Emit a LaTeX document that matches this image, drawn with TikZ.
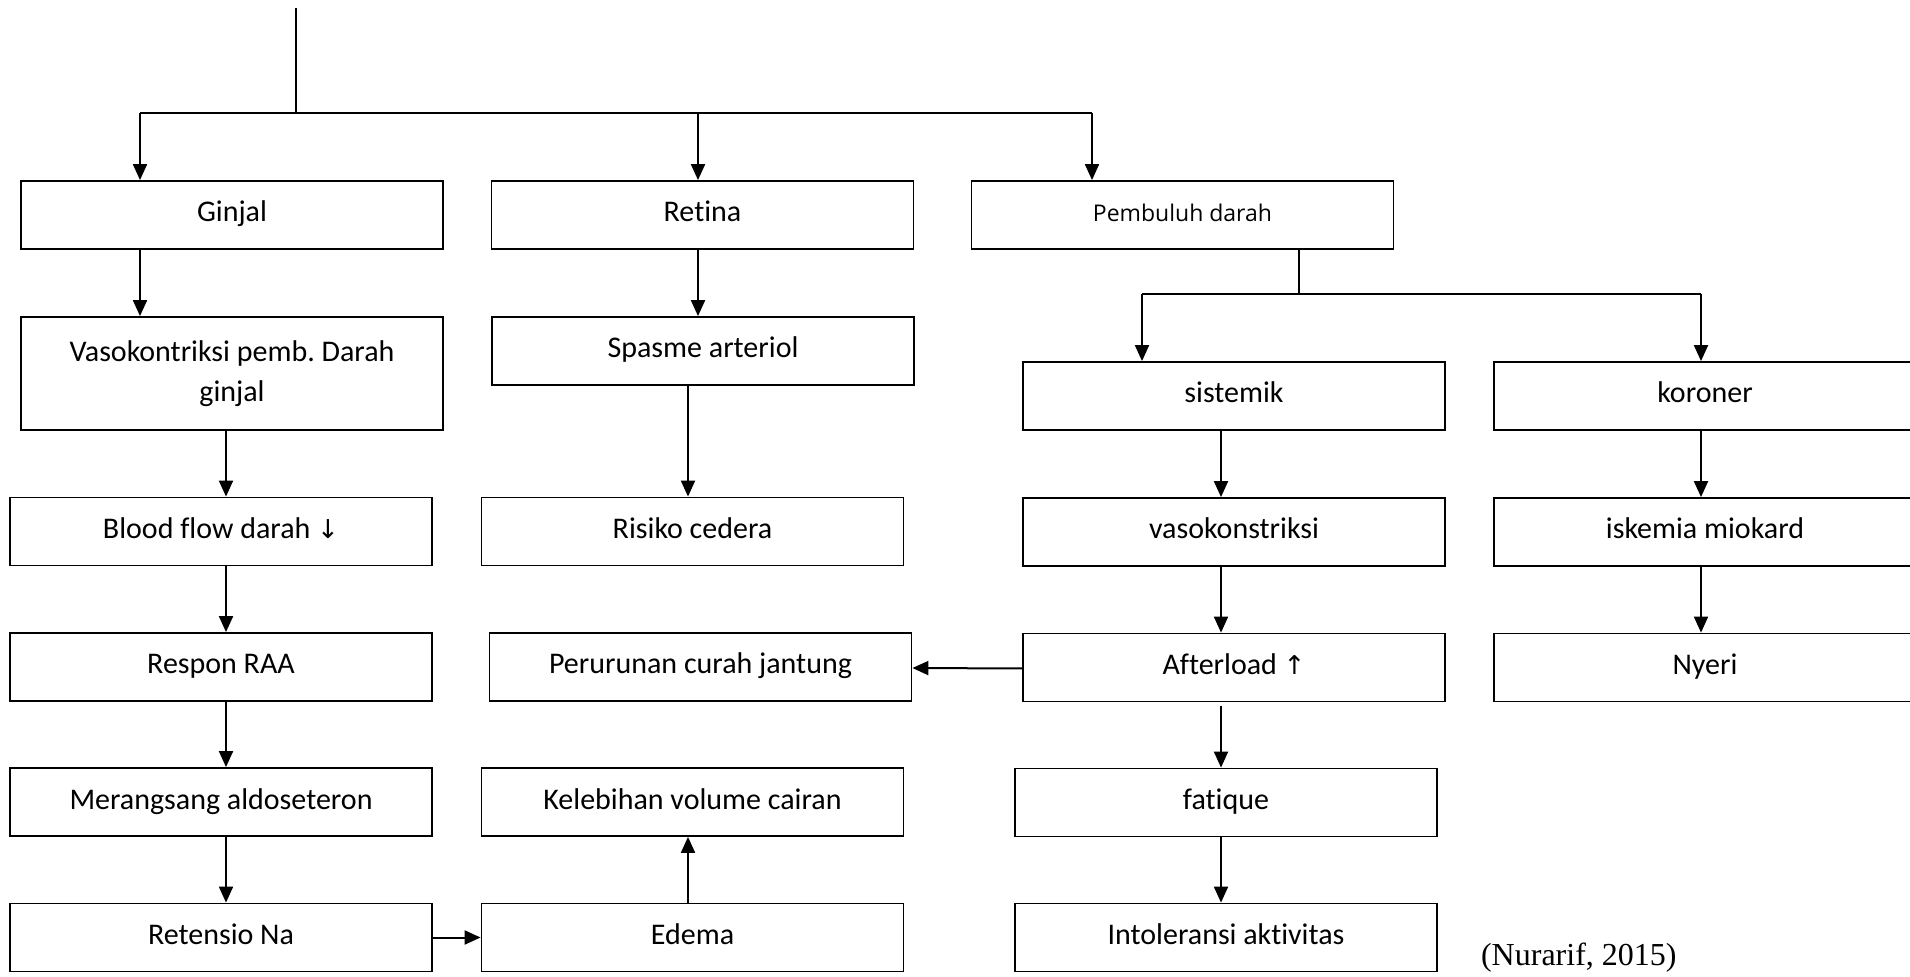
\documentclass[tikz,border=0pt]{standalone}
\usepackage{fontspec}
\setmainfont{Carlito}[Ligatures=NoCommon]
\newfontfamily\symfont{DejaVu Sans}
\newfontfamily\pbfont{Open Sans}
\newfontfamily\citefont{Liberation Serif}
\frenchspacing
\usepackage{tikz}
\usetikzlibrary{positioning,calc,arrows.meta}

\tikzset{
  box/.style={draw, line width=0.9pt, minimum width=211pt, minimum height=34pt, inner sep=0pt, text height=11pt, text depth=4pt, font=\fontsize{15}{20}\selectfont},
  arr/.style={-{Triangle[length=8pt,width=7pt]}, line width=1pt},
  wire/.style={line width=1pt}
}

\begin{document}
\begin{tikzpicture}[x=0.5pt, y=-0.5pt]
  \useasboundingbox (0,0) rectangle (1910,977);

  % Top row
  \node[box] (ginjal) at (232, 215) {Ginjal};
  \node[box] (retina) at (702.5, 215) {Retina};
  \node[box, font=\pbfont\fontsize{11.5}{14}\selectfont] (pembuluh) at (1182.5, 215) {Pembuluh darah};

  % Ginjal column
  \node[box, minimum height=56.5pt, text height=, text depth=, align=center] (vaso) at (232, 373.5) {Vasokontriksi pemb. Darah\\ginjal};
  \node[box] (blood) at (221, 531.5) {Blood flow darah {\symfont\fontsize{13}{15}\selectfont↓}};
  \node[box] (respon) at (221, 667) {Respon RAA};
  \node[box] (merangsang) at (221, 802) {Merangsang aldoseteron};
  \node[box] (retensio) at (221, 937.5) {Retensio Na};

  % Retina column
  \node[box] (spasme) at (703, 351) {Spasme arteriol};
  \node[box] (risiko) at (692.5, 531.5) {Risiko cedera};
  \node[box] (perurunan) at (700.5, 667) {Perurunan curah jantung};
  \node[box] (kelebihan) at (692.5, 802) {Kelebihan volume cairan};
  \node[box] (edema) at (692.5, 937.5) {Edema};

  % Pembuluh darah columns
  \node[box] (sistemik) at (1234, 396) {sistemik};
  \node[box] (koroner) at (1705, 396) {koroner};
  \node[box] (vasokons) at (1234, 532) {vasokonstriksi};
  \node[box] (iskemia) at (1705, 532) {iskemia miokard};
  \node[box] (afterload) at (1234, 667.5) {Afterload {\symfont\fontsize{13}{15}\selectfont↑}};
  \node[box] (nyeri) at (1705, 667.5) {Nyeri};
  \node[box] (fatique) at (1226, 802.5) {fatique};
  \node[box] (intoleransi) at (1226, 937.5) {Intoleransi aktivitas};

  \node[anchor=west, font=\citefont\fontsize{16}{18}\selectfont] (sumber) at (1474, 958) {(Nurarif, 2015)};

  % Branch from the top
  \coordinate (top) at (296, 8);
  \coordinate (busL) at (140, 113);
  \coordinate (busM) at (698, 113);
  \coordinate (busR) at (1092, 113);
  \draw[wire] (top) -- (top |- busL);
  \draw[wire] (busL) -- (busR);
  \draw[arr] (busL) -- (busL |- ginjal.north);
  \draw[arr] (busM) -- (busM |- retina.north);
  \draw[arr] (busR) -- (busR |- pembuluh.north);

  % Ginjal chain
  \draw[arr] (busL |- ginjal.south) -- (busL |- vaso.north);
  \coordinate (colG) at (226, 0);
  \draw[arr] (colG |- vaso.south) -- (colG |- blood.north);
  \draw[arr] (colG |- blood.south) -- (colG |- respon.north);
  \draw[arr] (colG |- respon.south) -- (colG |- merangsang.north);
  \draw[arr] (colG |- merangsang.south) -- (colG |- retensio.north);
  \draw[arr] (retensio.east) -- (edema.west);

  % Retina chain
  \draw[arr] (busM |- retina.south) -- (busM |- spasme.north);
  \coordinate (colR) at (688, 0);
  \draw[arr] (colR |- spasme.south) -- (colR |- risiko.north);
  \draw[arr] (colR |- edema.north) -- (colR |- kelebihan.south);

  % Pembuluh darah split
  \coordinate (split) at (1299, 294);
  \coordinate (splitL) at (1142, 294);
  \coordinate (splitR) at (1701, 294);
  \draw[wire] (split |- pembuluh.south) -- (split);
  \draw[wire] (splitL) -- (splitR);
  \draw[arr] (splitL) -- (splitL |- sistemik.north);
  \draw[arr] (splitR) -- (splitR |- koroner.north);

  % Sistemik chain
  \coordinate (colS) at (1221, 0);
  \draw[arr] (colS |- sistemik.south) -- (colS |- vasokons.north);
  \draw[arr] (colS |- vasokons.south) -- (colS |- afterload.north);
  \draw[arr] ([yshift=-2pt]colS |- afterload.south) -- (colS |- fatique.north);
  \draw[arr] (colS |- fatique.south) -- (colS |- intoleransi.north);
  \draw[arr] ([yshift=-0.5pt]afterload.west) -- ([yshift=-0.5pt]perurunan.east);

  % Koroner chain
  \draw[arr] (splitR |- koroner.south) -- (splitR |- iskemia.north);
  \draw[arr] (splitR |- iskemia.south) -- (splitR |- nyeri.north);
\end{tikzpicture}
\end{document}
